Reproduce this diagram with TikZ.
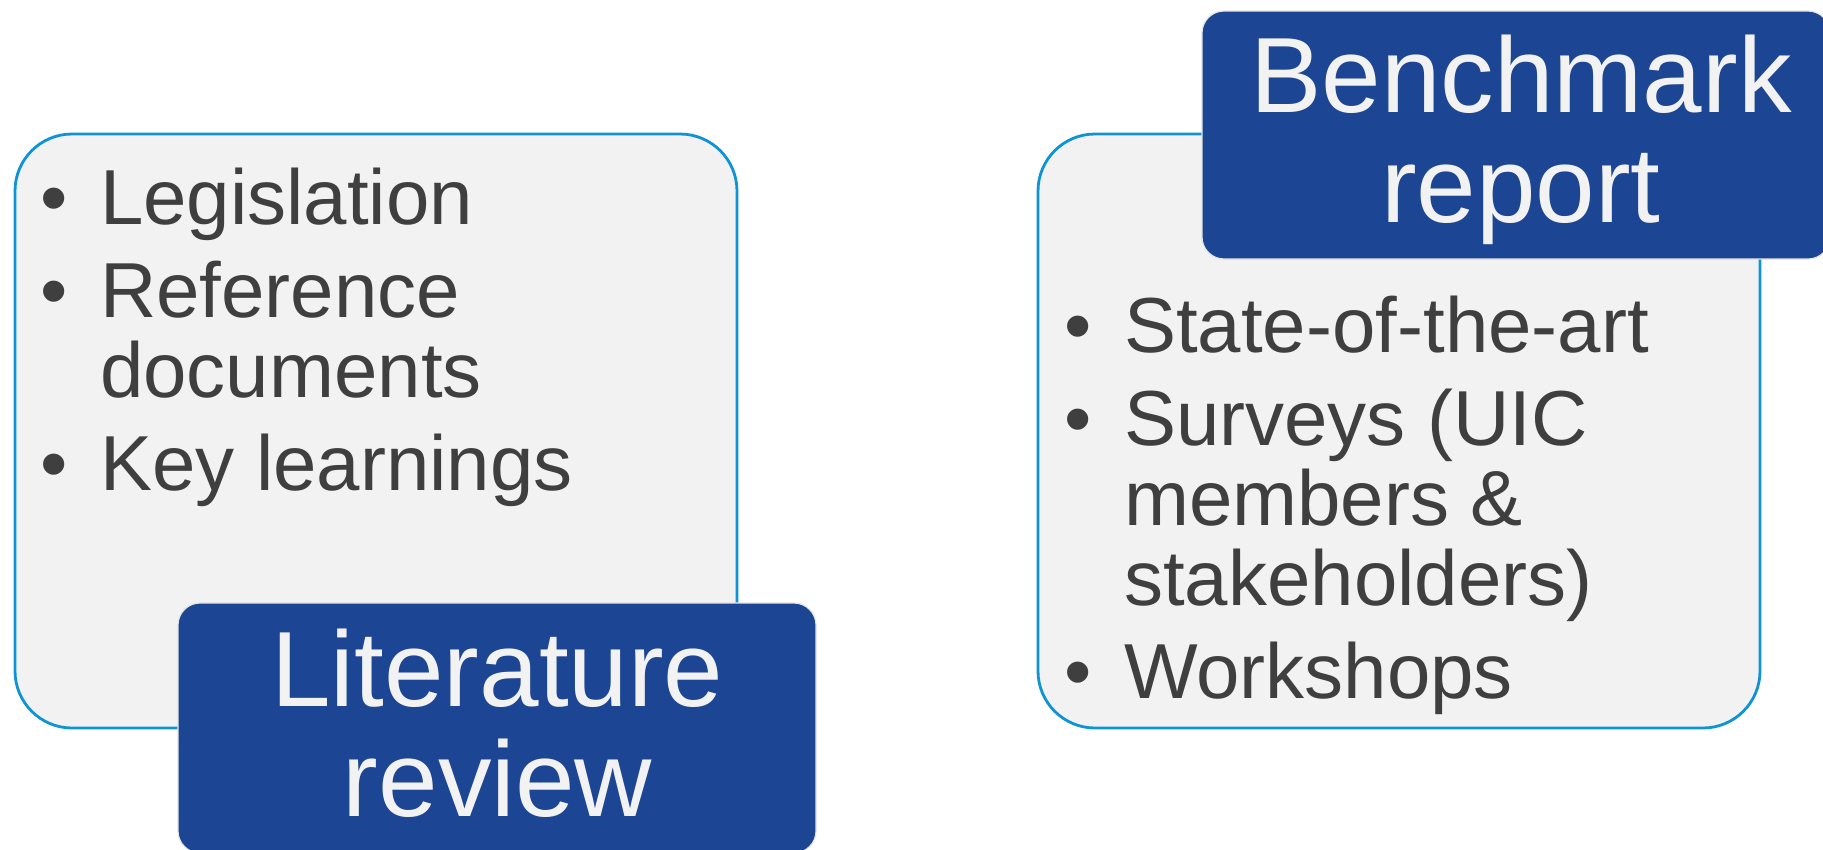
\documentclass[tikz,border=0pt]{standalone}
\usepackage{fontspec}
\setmainfont{Liberation Sans}
\definecolor{panelfill}{HTML}{F2F2F2}
\definecolor{panelline}{HTML}{0E94D6}
\definecolor{titlefill}{HTML}{1C4594}
\definecolor{titleedge}{HTML}{E4E4E4}
\definecolor{bodytext}{HTML}{3F3F3F}
\definecolor{titletext}{HTML}{F2F2F2}
\tikzset{
  panel/.style={draw=panelline, fill=panelfill, line width=2.8pt, rounded corners=57pt,
    inner sep=0pt, minimum width=722pt, minimum height=594pt},
  titlebox/.style={draw=titleedge, fill=titlefill, line width=1.2pt, rounded corners=22pt,
    inner sep=0pt},
  bodyline/.style={anchor=base west, inner sep=0pt, text=bodytext, font=\fontsize{78}{80}\selectfont},
  bulletmark/.style={anchor=base, inner sep=0pt, text=bodytext, font=\fontsize{78}{80}\selectfont},
  titleline/.style={anchor=base, inner sep=0pt, text=titletext, font=\fontsize{107}{110}\selectfont},
}
\begin{document}
\begin{tikzpicture}[x=1pt,y=-1pt]
\useasboundingbox (0,0) rectangle (1823,849);
% panels
\node[panel] (litpanel) at (376,431) {};
\node[panel] (benchpanel) at (1399,431) {};
% left body
\node[bulletmark] (lb1) at (54,224) {•};
\node[bodyline] (l1) at (100,224) {Legislation};
\node[bulletmark] (lb2) at (54,317) {•};
\node[bodyline] (l2a) at (100,317) {Reference};
\node[bodyline] (l2b) at (100,397) {documents};
\node[bulletmark] (lb3) at (54,490) {•};
\node[bodyline] (l3) at (100,490) {Key learnings};
% right body
\node[bulletmark] (rb1) at (1078,352) {•};
\node[bodyline] (r1) at (1124,352) {State-of-the-art};
\node[bulletmark] (rb2) at (1078,445) {•};
\node[bodyline] (r2a) at (1124,445) {Surveys (UIC};
\node[bodyline] (r2b) at (1124,525) {members \&};
\node[bodyline] (r2c) at (1124,605) {stakeholders)};
\node[bulletmark] (rb3) at (1078,698) {•};
\node[bodyline] (r3) at (1124,698) {Workshops};
% title boxes
\node[titlebox, minimum width=638pt, minimum height=250pt] (littitle) at (497,728) {};
\node[titleline] (lt1) at (497.5,706) {Literature};
\node[titleline] (lt2) at (497.5,816) {review};
\node[titlebox, minimum width=628pt, minimum height=248pt] (benchtitle) at (1516,135) {};
\node[titleline] (bt1) at (1521,112) {Benchmark};
\node[titleline] (bt2) at (1521,222) {report};
\end{tikzpicture}
\end{document}
